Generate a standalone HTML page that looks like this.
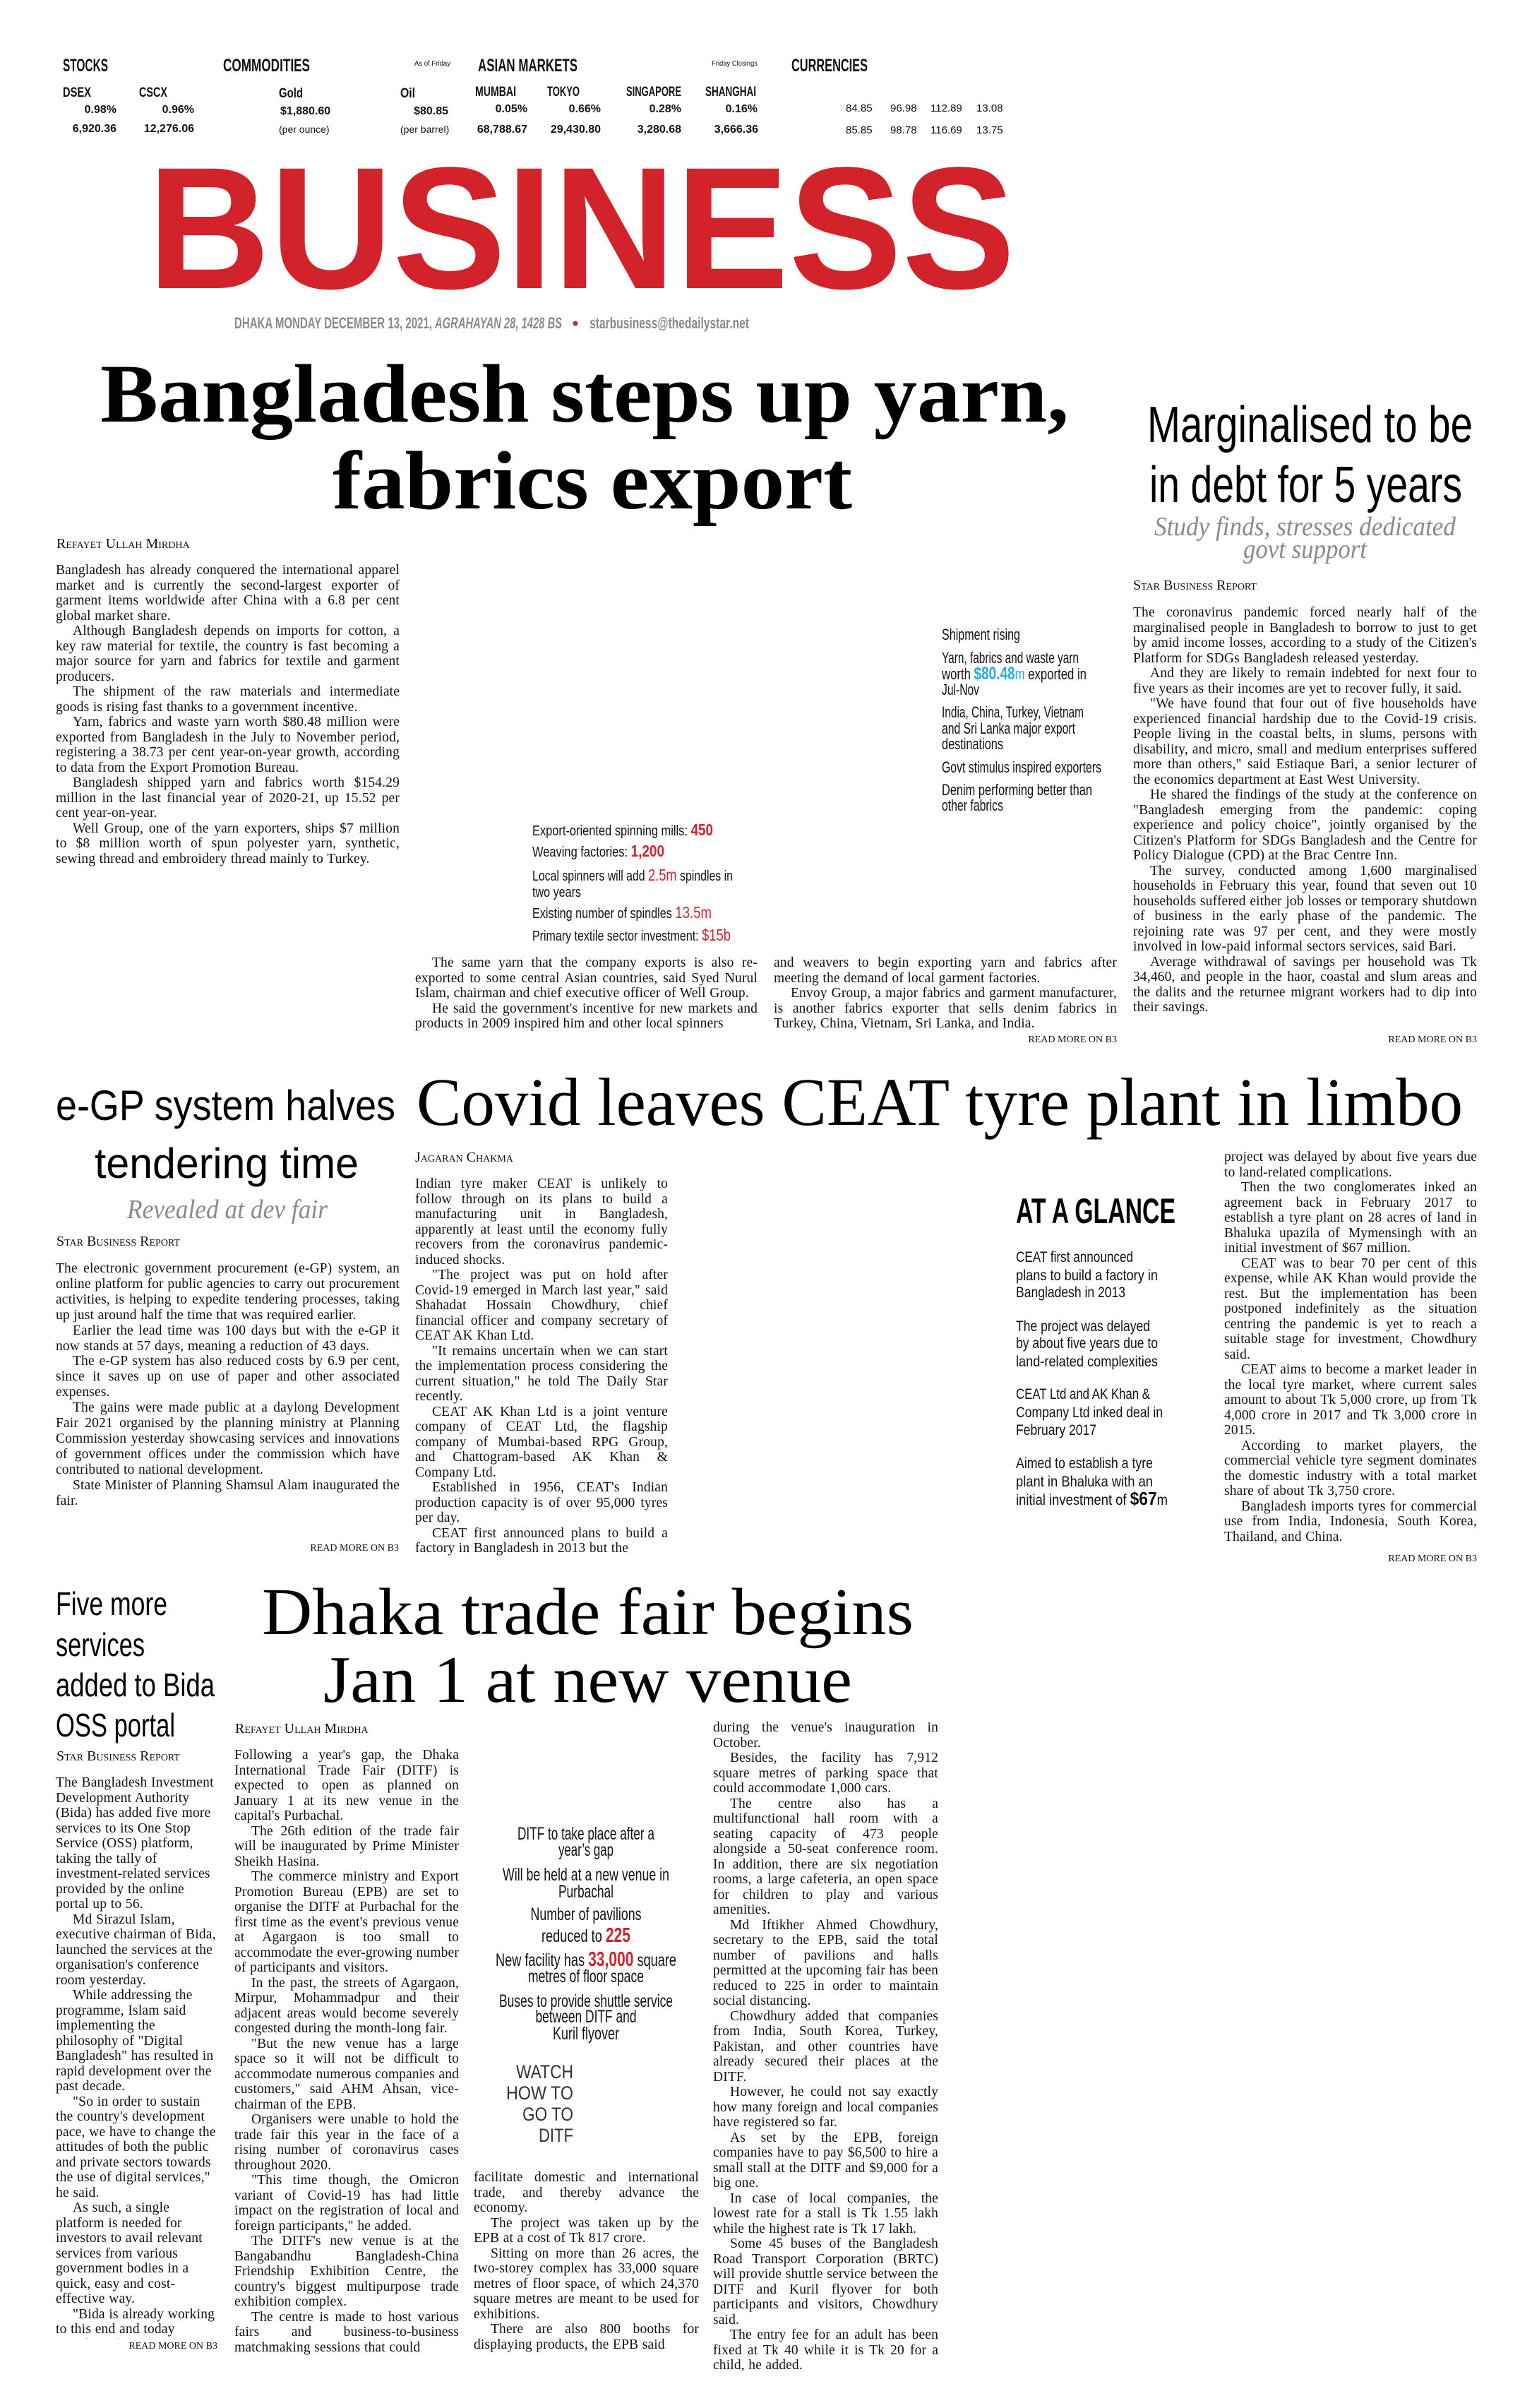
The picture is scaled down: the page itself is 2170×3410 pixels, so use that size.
<!DOCTYPE html>
<html><head><meta charset="utf-8">
<style>
html,body{margin:0;padding:0;background:#fff;}
body{width:2170px;height:3410px;position:relative;overflow:hidden;}
.c{position:absolute;font-family:"Liberation Serif",serif;font-size:19.5px;letter-spacing:0.15px;word-spacing:0.5px;line-height:21.5px;color:#111;text-align:justify;overflow:hidden;}
.c p{margin:0;text-indent:24px;}
.c p.n{text-indent:0;}
.rag{text-align:left;}
.by{position:absolute;font-family:"Liberation Serif",serif;font-variant:small-caps;font-size:20px;line-height:22px;color:#111;}
.rm{position:absolute;font-family:"Liberation Serif",serif;font-size:14px;color:#111;text-align:right;white-space:nowrap;}
svg{position:absolute;left:0;top:0;}
.sn{font-family:"Liberation Sans Narrow","Liberation Sans",sans-serif;}
.sf{font-family:"Liberation Serif",serif;}
</style></head><body>

<svg width="2170" height="3410" viewBox="0 0 2170 3410">
<g class="sn" font-weight="bold" fill="#111">
<text x="89" y="101" font-size="25" textLength="64" lengthAdjust="spacingAndGlyphs">STOCKS</text>
<text x="316" y="101" font-size="25" textLength="123" lengthAdjust="spacingAndGlyphs">COMMODITIES</text>
<text x="587" y="93" font-size="10" font-weight="normal" textLength="51" lengthAdjust="spacingAndGlyphs">As of Friday</text>
<text x="677" y="101" font-size="25" textLength="141" lengthAdjust="spacingAndGlyphs">ASIAN MARKETS</text>
<text x="1008" y="93" font-size="10" font-weight="normal" textLength="65" lengthAdjust="spacingAndGlyphs">Friday Closings</text>
<text x="1121" y="101" font-size="25" textLength="108" lengthAdjust="spacingAndGlyphs">CURRENCIES</text>
<g font-size="19">
<text x="89" y="137" textLength="40" lengthAdjust="spacingAndGlyphs">DSEX</text>
<text x="197" y="137" textLength="40" lengthAdjust="spacingAndGlyphs">CSCX</text>
<text x="395" y="138" textLength="34" lengthAdjust="spacingAndGlyphs">Gold</text>
<text x="567" y="138" textLength="21" lengthAdjust="spacingAndGlyphs">Oil</text>
<text x="673" y="136" textLength="58" lengthAdjust="spacingAndGlyphs">MUMBAI</text>
<text x="775" y="136" textLength="46" lengthAdjust="spacingAndGlyphs">TOKYO</text>
<text x="887" y="136" textLength="78" lengthAdjust="spacingAndGlyphs">SINGAPORE</text>
<text x="999" y="136" textLength="72" lengthAdjust="spacingAndGlyphs">SHANGHAI</text>
</g>
<g font-size="16" font-family="Liberation Sans,sans-serif">
<text x="165" y="160" text-anchor="end">0.98%</text>
<text x="275" y="160" text-anchor="end">0.96%</text>
<text x="397" y="162">$1,880.60</text>
<text x="635" y="162" text-anchor="end">$80.85</text>
<text x="747" y="159" text-anchor="end">0.05%</text>
<text x="851" y="159" text-anchor="end">0.66%</text>
<text x="965" y="159" text-anchor="end">0.28%</text>
<text x="1073" y="159" text-anchor="end">0.16%</text>
<text x="165" y="187" text-anchor="end">6,920.36</text>
<text x="275" y="187" text-anchor="end">12,276.06</text>
<text x="395" y="188" font-weight="normal" font-size="14">(per ounce)</text>
<text x="567" y="188" font-weight="normal" font-size="14">(per barrel)</text>
<text x="747" y="188" text-anchor="end">68,788.67</text>
<text x="851" y="188" text-anchor="end">29,430.80</text>
<text x="965" y="188" text-anchor="end">3,280.68</text>
<text x="1074" y="188" text-anchor="end">3,666.36</text>
</g>
<g font-size="15" font-weight="normal" font-family="Liberation Sans,sans-serif">
<text x="1198" y="158">84.85</text><text x="1261" y="158">96.98</text><text x="1318" y="158">112.89</text><text x="1383" y="158">13.08</text>
<text x="1198" y="189">85.85</text><text x="1261" y="189">98.78</text><text x="1318" y="189">116.69</text><text x="1383" y="189">13.75</text>
</g>
</g>
<text x="209" y="408" font-family="Liberation Sans,sans-serif" font-weight="bold" font-size="246" fill="#d2232a" textLength="1229" lengthAdjust="spacingAndGlyphs">BUSINESS</text>
<g class="sn" font-weight="bold" fill="#8a8a8a" font-size="22">
<text x="332" y="465" textLength="280" lengthAdjust="spacingAndGlyphs">DHAKA MONDAY DECEMBER 13, 2021,</text>
<text x="616" y="465" font-style="italic" textLength="180" lengthAdjust="spacingAndGlyphs">AGRAHAYAN 28, 1428 BS</text>
<circle cx="815" cy="458" r="3.5" fill="#d2232a"/>
<text x="835" y="465" textLength="226" lengthAdjust="spacingAndGlyphs">starbusiness@thedailystar.net</text>
</g>

<g class="sf" font-weight="bold" fill="#000" font-size="118">
<text x="142" y="597" textLength="1372" lengthAdjust="spacingAndGlyphs">Bangladesh steps up yarn,</text>
<text x="471" y="720" textLength="736" lengthAdjust="spacingAndGlyphs">fabrics export</text>
</g>
<g class="sn" fill="#000" font-size="72">
<text x="1625" y="626" textLength="461" lengthAdjust="spacingAndGlyphs">Marginalised to be</text>
<text x="1628" y="711" textLength="443" lengthAdjust="spacingAndGlyphs">in debt for 5 years</text>
</g>
<g class="sf" font-style="italic" fill="#8a8a8a" font-size="38">
<text x="1635" y="758" textLength="427" lengthAdjust="spacingAndGlyphs">Study finds, stresses dedicated</text>
<text x="1761" y="790" textLength="175" lengthAdjust="spacingAndGlyphs">govt support</text>
</g>

<g class="sn" fill="#111" font-size="20">
<text x="754" y="1183" textLength="256" lengthAdjust="spacingAndGlyphs">Export-oriented spinning mills: <tspan fill="#d2232a" font-weight="bold" font-size="23">450</tspan></text>
<text x="754" y="1213" textLength="187" lengthAdjust="spacingAndGlyphs">Weaving factories: <tspan fill="#d2232a" font-weight="bold" font-size="23">1,200</tspan></text>
<text x="754" y="1247" textLength="284" lengthAdjust="spacingAndGlyphs">Local spinners will add <tspan fill="#d2232a" font-size="23">2.5m</tspan> spindles in</text>
<text x="754" y="1270" textLength="69" lengthAdjust="spacingAndGlyphs">two years</text>
<text x="754" y="1300" textLength="254" lengthAdjust="spacingAndGlyphs">Existing number of spindles <tspan fill="#d2232a" font-size="23">13.5m</tspan></text>
<text x="754" y="1332" textLength="281" lengthAdjust="spacingAndGlyphs">Primary textile sector investment: <tspan fill="#d2232a" font-size="23">$15b</tspan></text>
</g>
<g class="sn" fill="#111" font-size="22">
<text x="1334" y="906" textLength="111" lengthAdjust="spacingAndGlyphs">Shipment rising</text>
<text x="1334" y="939" textLength="194" lengthAdjust="spacingAndGlyphs">Yarn, fabrics and waste yarn</text>
<text x="1334" y="962" textLength="205" lengthAdjust="spacingAndGlyphs">worth <tspan fill="#29abe2" font-weight="bold" font-size="25">$80.48</tspan><tspan fill="#29abe2">m</tspan> exported in</text>
<text x="1334" y="984" textLength="53" lengthAdjust="spacingAndGlyphs">Jul-Nov</text>
<text x="1334" y="1016" textLength="201" lengthAdjust="spacingAndGlyphs">India, China, Turkey, Vietnam</text>
<text x="1334" y="1039" textLength="189" lengthAdjust="spacingAndGlyphs">and Sri Lanka major export</text>
<text x="1334" y="1061" textLength="87" lengthAdjust="spacingAndGlyphs">destinations</text>
<text x="1334" y="1094" textLength="226" lengthAdjust="spacingAndGlyphs">Govt stimulus inspired exporters</text>
<text x="1334" y="1126" textLength="213" lengthAdjust="spacingAndGlyphs">Denim performing better than</text>
<text x="1334" y="1148" textLength="87" lengthAdjust="spacingAndGlyphs">other fabrics</text>
</g>

<g class="sn" fill="#000" font-size="60">
<text x="79" y="1586" textLength="481" lengthAdjust="spacingAndGlyphs">e-GP system halves</text>
<text x="134" y="1668" textLength="374" lengthAdjust="spacingAndGlyphs">tendering time</text>
</g>
<text x="180" y="1725" class="sf" font-style="italic" fill="#8a8a8a" font-size="38" textLength="284" lengthAdjust="spacingAndGlyphs">Revealed at dev fair</text>
<text x="590" y="1593" class="sf" fill="#000" font-size="96" textLength="1482" lengthAdjust="spacingAndGlyphs">Covid leaves CEAT tyre plant in limbo</text>
<text x="1439" y="1732" class="sn" font-weight="bold" fill="#000" font-size="50" textLength="226" lengthAdjust="spacingAndGlyphs">AT A GLANCE</text>
<g class="sn" fill="#111" font-size="21">
<text x="1439" y="1787" textLength="166" lengthAdjust="spacingAndGlyphs">CEAT first announced</text>
<text x="1439" y="1813" textLength="201" lengthAdjust="spacingAndGlyphs">plans to build a factory in</text>
<text x="1439" y="1837" textLength="155" lengthAdjust="spacingAndGlyphs">Bangladesh in 2013</text>
<text x="1439" y="1885" textLength="190" lengthAdjust="spacingAndGlyphs">The project was delayed</text>
<text x="1439" y="1909" textLength="201" lengthAdjust="spacingAndGlyphs">by about five years due to</text>
<text x="1439" y="1935" textLength="201" lengthAdjust="spacingAndGlyphs">land-related complexities</text>
<text x="1439" y="1981" textLength="190" lengthAdjust="spacingAndGlyphs">CEAT Ltd and AK Khan &amp;</text>
<text x="1439" y="2007" textLength="208" lengthAdjust="spacingAndGlyphs">Company Ltd inked deal in</text>
<text x="1439" y="2032" textLength="114" lengthAdjust="spacingAndGlyphs">February 2017</text>
<text x="1439" y="2079" textLength="194" lengthAdjust="spacingAndGlyphs">Aimed to establish a tyre</text>
<text x="1439" y="2105" textLength="194" lengthAdjust="spacingAndGlyphs">plant in Bhaluka with an</text>
<text x="1439" y="2131" textLength="215" lengthAdjust="spacingAndGlyphs">initial investment of <tspan font-weight="bold" font-size="26">$67</tspan>m</text>
</g>

<g class="sn" fill="#000" font-size="46">
<text x="79" y="2287" textLength="158" lengthAdjust="spacingAndGlyphs">Five more</text>
<text x="79" y="2345" textLength="126" lengthAdjust="spacingAndGlyphs">services</text>
<text x="79" y="2402" textLength="225" lengthAdjust="spacingAndGlyphs">added to Bida</text>
<text x="79" y="2459" textLength="169" lengthAdjust="spacingAndGlyphs">OSS portal</text>
</g>
<g class="sf" fill="#000" font-size="94">
<text x="371" y="2314" textLength="923" lengthAdjust="spacingAndGlyphs">Dhaka trade fair begins</text>
<text x="458" y="2410" textLength="749" lengthAdjust="spacingAndGlyphs">Jan 1 at new venue</text>
</g>
<g class="sn" fill="#111" font-size="25" text-anchor="middle">
<text x="830" y="2605" textLength="194" lengthAdjust="spacingAndGlyphs">DITF to take place after a</text>
<text x="830" y="2628" textLength="78" lengthAdjust="spacingAndGlyphs">year’s gap</text>
<text x="830" y="2663" textLength="236" lengthAdjust="spacingAndGlyphs">Will be held at a new venue in</text>
<text x="830" y="2687" textLength="78" lengthAdjust="spacingAndGlyphs">Purbachal</text>
<text x="830" y="2719" textLength="157" lengthAdjust="spacingAndGlyphs">Number of pavilions</text>
<text x="830" y="2750" textLength="126" lengthAdjust="spacingAndGlyphs">reduced to <tspan fill="#d2232a" font-weight="bold" font-size="29">225</tspan></text>
<text x="830" y="2784" textLength="256" lengthAdjust="spacingAndGlyphs">New facility has <tspan fill="#d2232a" font-weight="bold" font-size="29">33,000</tspan> square</text>
<text x="830" y="2807" textLength="164" lengthAdjust="spacingAndGlyphs">metres of floor space</text>
<text x="830" y="2842" textLength="246" lengthAdjust="spacingAndGlyphs">Buses to provide shuttle service</text>
<text x="830" y="2864" textLength="143" lengthAdjust="spacingAndGlyphs">between DITF and</text>
<text x="830" y="2888" textLength="94" lengthAdjust="spacingAndGlyphs">Kuril flyover</text>
</g>
<g font-family="Liberation Sans,sans-serif" fill="#333" font-size="27" text-anchor="end">
<text x="812" y="2943" textLength="81" lengthAdjust="spacingAndGlyphs">WATCH</text>
<text x="812" y="2973" textLength="95" lengthAdjust="spacingAndGlyphs">HOW TO</text>
<text x="812" y="3003" textLength="72" lengthAdjust="spacingAndGlyphs">GO TO</text>
<text x="812" y="3033" textLength="49" lengthAdjust="spacingAndGlyphs">DITF</text>
</g>
</svg>

<div class="by" style="left:80px;top:759px;">Refayet Ullah Mirdha</div>
<div class="c" style="left:79px;top:797px;width:487px;height:452px;">
<p class="n">Bangladesh has already conquered the international apparel market and is currently the second-largest exporter of garment items worldwide after China with a 6.8 per cent global market share.</p>
<p>Although Bangladesh depends on imports for cotton, a key raw material for textile, the country is fast becoming a major source for yarn and fabrics for textile and garment producers.</p>
<p>The shipment of the raw materials and intermediate goods is rising fast thanks to a government incentive.</p>
<p>Yarn, fabrics and waste yarn worth $80.48 million were exported from Bangladesh in the July to November period, registering a 38.73 per cent year-on-year growth, according to data from the Export Promotion Bureau.</p>
<p>Bangladesh shipped yarn and fabrics worth $154.29 million in the last financial year of 2020-21, up 15.52 per cent year-on-year.</p>
<p>Well Group, one of the yarn exporters, ships $7 million to $8 million worth of spun polyester yarn, synthetic, sewing thread and embroidery thread mainly to Turkey.</p>
</div>
<div class="c" style="left:588px;top:1353px;width:485px;height:130px;">
<p>The same yarn that the company exports is also re-exported to some central Asian countries, said Syed Nurul Islam, chairman and chief executive officer of Well Group.</p>
<p>He said the government's incentive for new markets and products in 2009 inspired him and other local spinners</p>
</div>
<div class="c" style="left:1096px;top:1353px;width:486px;height:108px;">
<p class="n">and weavers to begin exporting yarn and fabrics after meeting the demand of local garment factories.</p>
<p>Envoy Group, a major fabrics and garment manufacturer, is another fabrics exporter that sells denim fabrics in Turkey, China, Vietnam, Sri Lanka, and India.</p>
</div>
<div class="rm" style="right:588px;top:1465px;">READ MORE ON B3</div>

<div class="by" style="left:1605px;top:818px;">Star Business Report</div>
<div class="c" style="left:1605px;top:857px;width:487px;height:604px;">
<p class="n">The coronavirus pandemic forced nearly half of the marginalised people in Bangladesh to borrow to just to get by amid income losses, according to a study of the Citizen's Platform for SDGs Bangladesh released yesterday.</p>
<p>And they are likely to remain indebted for next four to five years as their incomes are yet to recover fully, it said.</p>
<p>"We have found that four out of five households have experienced financial hardship due to the Covid-19 crisis. People living in the coastal belts, in slums, persons with disability, and micro, small and medium enterprises suffered more than others," said Estiaque Bari, a senior lecturer of the economics department at East West University.</p>
<p>He shared the findings of the study at the conference on "Bangladesh emerging from the pandemic: coping experience and policy choice", jointly organised by the Citizen's Platform for SDGs Bangladesh and the Centre for Policy Dialogue (CPD) at the Brac Centre Inn.</p>
<p>The survey, conducted among 1,600 marginalised households in February this year, found that seven out 10 households suffered either job losses or temporary shutdown of business in the early phase of the pandemic. The rejoining rate was 97 per cent, and they were mostly involved in low-paid informal sectors services, said Bari.</p>
<p>Average withdrawal of savings per household was Tk 34,460, and people in the haor, coastal and slum areas and the dalits and the returnee migrant workers had to dip into their savings.</p>
</div>
<div class="rm" style="right:78px;top:1465px;">READ MORE ON B3</div>

<div class="by" style="left:80px;top:1747px;">Star Business Report</div>
<div class="c" style="left:79px;top:1786px;width:487px;height:396px;line-height:21.9px;">
<p class="n">The electronic government procurement (e-GP) system, an online platform for public agencies to carry out procurement activities, is helping to expedite tendering processes, taking up just around half the time that was required earlier.</p>
<p>Earlier the lead time was 100 days but with the e-GP it now stands at 57 days, meaning a reduction of 43 days.</p>
<p>The e-GP system has also reduced costs by 6.9 per cent, since it saves up on use of paper and other associated expenses.</p>
<p>The gains were made public at a daylong Development Fair 2021 organised by the planning ministry at Planning Commission yesterday showcasing services and innovations of government offices under the commission which have contributed to national development.</p>
<p>State Minister of Planning Shamsul Alam inaugurated the fair.</p>
</div>
<div class="rm" style="right:1605px;top:2185px;">READ MORE ON B3</div>

<div class="by" style="left:588px;top:1628px;">Jagaran Chakma</div>
<div class="c" style="left:588px;top:1666px;width:358px;height:540px;">
<p class="n">Indian tyre maker CEAT is unlikely to follow through on its plans to build a manufacturing unit in Bangladesh, apparently at least until the economy fully recovers from the coronavirus pandemic-induced shocks.</p>
<p>"The project was put on hold after Covid-19 emerged in March last year," said Shahadat Hossain Chowdhury, chief financial officer and company secretary of CEAT AK Khan Ltd.</p>
<p>"It remains uncertain when we can start the implementation process considering the current situation," he told The Daily Star recently.</p>
<p>CEAT AK Khan Ltd is a joint venture company of CEAT Ltd, the flagship company of Mumbai-based RPG Group, and Chattogram-based AK Khan &amp; Company Ltd.</p>
<p>Established in 1956, CEAT's Indian production capacity is of over 95,000 tyres per day.</p>
<p>CEAT first announced plans to build a factory in Bangladesh in 2013 but the</p>
</div>
<div class="c" style="left:1734px;top:1628px;width:358px;height:564px;">
<p class="n">project was delayed by about five years due to land-related complications.</p>
<p>Then the two conglomerates inked an agreement back in February 2017 to establish a tyre plant on 28 acres of land in Bhaluka upazila of Mymensingh with an initial investment of $67 million.</p>
<p>CEAT was to bear 70 per cent of this expense, while AK Khan would provide the rest. But the implementation has been postponed indefinitely as the situation centring the pandemic is yet to reach a suitable stage for investment, Chowdhury said.</p>
<p>CEAT aims to become a market leader in the local tyre market, where current sales amount to about Tk 5,000 crore, up from Tk 4,000 crore in 2017 and Tk 3,000 crore in 2015.</p>
<p>According to market players, the commercial vehicle tyre segment dominates the domestic industry with a total market share of about Tk 3,750 crore.</p>
<p>Bangladesh imports tyres for commercial use from India, Indonesia, South Korea, Thailand, and China.</p>
</div>
<div class="rm" style="right:78px;top:2200px;">READ MORE ON B3</div>

<div class="by" style="left:80px;top:2476px;">Star Business Report</div>
<div class="c rag" style="left:79px;top:2514px;width:232px;height:798px;letter-spacing:0.2px;">
<p class="n">The Bangladesh Investment Development Authority (Bida) has added five more services to its One Stop Service (OSS) platform, taking the tally of investment-related services provided by the online portal up to 56.</p>
<p>Md Sirazul Islam, executive chairman of Bida, launched the services at the organisation's conference room yesterday.</p>
<p>While addressing the programme, Islam said implementing the philosophy of "Digital Bangladesh" has resulted in rapid development over the past decade.</p>
<p>"So in order to sustain the country's development pace, we have to change the attitudes of both the public and private sectors towards the use of digital services," he said.</p>
<p>As such, a single platform is needed for investors to avail relevant services from various government bodies in a quick, easy and cost-effective way.</p>
<p>"Bida is already working to this end and today (Sunday), five more</p>
</div>
<div class="rm" style="right:1862px;top:3315px;">READ MORE ON B3</div>

<div class="by" style="left:333px;top:2437px;">Refayet Ullah Mirdha</div>
<div class="c" style="left:332px;top:2475px;width:318px;height:862px;">
<p class="n">Following a year's gap, the Dhaka International Trade Fair (DITF) is expected to open as planned on January 1 at its new venue in the capital's Purbachal.</p>
<p>The 26th edition of the trade fair will be inaugurated by Prime Minister Sheikh Hasina.</p>
<p>The commerce ministry and Export Promotion Bureau (EPB) are set to organise the DITF at Purbachal for the first time as the event's previous venue at Agargaon is too small to accommodate the ever-growing number of participants and visitors.</p>
<p>In the past, the streets of Agargaon, Mirpur, Mohammadpur and their adjacent areas would become severely congested during the month-long fair.</p>
<p>"But the new venue has a large space so it will not be difficult to accommodate numerous companies and customers," said AHM Ahsan, vice-chairman of the EPB.</p>
<p>Organisers were unable to hold the trade fair this year in the face of a rising number of coronavirus cases throughout 2020.</p>
<p>"This time though, the Omicron variant of Covid-19 has had little impact on the registration of local and foreign participants," he added.</p>
<p>The DITF's new venue is at the Bangabandhu Bangladesh-China Friendship Exhibition Centre, the country's biggest multipurpose trade exhibition complex.</p>
<p>The centre is made to host various fairs and business-to-business matchmaking sessions that could</p>
</div>
<div class="c" style="left:671px;top:3073px;width:319px;height:262px;">
<p class="n">facilitate domestic and international trade, and thereby advance the economy.</p>
<p>The project was taken up by the EPB at a cost of Tk 817 crore.</p>
<p>Sitting on more than 26 acres, the two-storey complex has 33,000 square metres of floor space, of which 24,370 square metres are meant to be used for exhibitions.</p>
<p>There are also 800 booths for displaying products, the EPB said</p>
</div>
<div class="c" style="left:1010px;top:2436px;width:319px;height:930px;">
<p class="n">during the venue's inauguration in October.</p>
<p>Besides, the facility has 7,912 square metres of parking space that could accommodate 1,000 cars.</p>
<p>The centre also has a multifunctional hall room with a seating capacity of 473 people alongside a 50-seat conference room. In addition, there are six negotiation rooms, a large cafeteria, an open space for children to play and various amenities.</p>
<p>Md Iftikher Ahmed Chowdhury, secretary to the EPB, said the total number of pavilions and halls permitted at the upcoming fair has been reduced to 225 in order to maintain social distancing.</p>
<p>Chowdhury added that companies from India, South Korea, Turkey, Pakistan, and other countries have already secured their places at the DITF.</p>
<p>However, he could not say exactly how many foreign and local companies have registered so far.</p>
<p>As set by the EPB, foreign companies have to pay $6,500 to hire a small stall at the DITF and $9,000 for a big one.</p>
<p>In case of local companies, the lowest rate for a stall is Tk 1.55 lakh while the highest rate is Tk 17 lakh.</p>
<p>Some 45 buses of the Bangladesh Road Transport Corporation (BRTC) will provide shuttle service between the DITF and Kuril flyover for both participants and visitors, Chowdhury said.</p>
<p>The entry fee for an adult has been fixed at Tk 40 while it is Tk 20 for a child, he added.</p>
</div>
</body></html>
